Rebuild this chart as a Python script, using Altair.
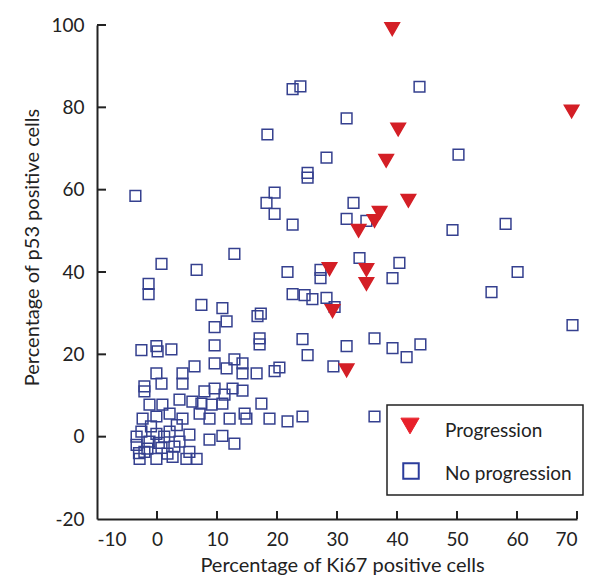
import altair as alt
import pandas as pd

# Progression (red triangles)
prog_x = [39.2, 69.1, 40.2, 38.2, 41.9, 37.1, 36.25, 33.6, 34.9, 34.9, 28.75, 29.25, 31.6]
prog_y = [99.0, 79.0, 74.6, 67.0, 57.3, 54.4, 52.4, 50.0, 40.5, 37.1, 40.7, 30.5, 16.1]

# No progression (blue open squares)
nop_x = [22.6, 23.9, 43.75, 31.6, 18.4, 50.25, 28.25, 25.1, 25.1, -3.6, 19.6, 18.25, 19.6, 22.6,
         32.75, 31.6, 34.9, 49.25, 58.1, 12.9, 33.75, 40.4, 39.25, 0.75, 6.6, 21.75, 27.25, 27.25,
         60.1, -1.4, -1.4, 55.75, 22.6, 24.6, 25.9, 28.25, 29.6, 69.25, 24.25, 25.1, 31.6, 36.25,
         39.25, 41.6, 43.9, 29.4, 24.25, 36.25, 20.4, 19.6,
         7.4, 10.9, 11.6, 9.6, 16.75, 17.3, 17.1, 17.1, 9.6, -2.6, -0.1, 0.1, 2.4, 6.25, 9.6, 12.9,
         14.25, 11.6, 14.25, 16.6, -0.1, 4.25, 4.25, 0.75, -2.1, -2.1, 9.6, 7.9, 11.25, 12.6, 14.25,
         -1.25, 0.9, 3.75, 5.9, 7.4, 9.1, 10.9, 17.4, -2.4, -0.1, 2.1, 4.25, 7.1, 8.75, 12.1, 14.6,
         14.9, 18.75, 21.75, 5.4, 8.75, 10.9, 12.9, -2.6, -0.1, 2.1, -3.4, -1.6, 0.75, 2.9, 5.4,
         6.6, -2.9, -0.1, 2.6, 4.9, -3.4, -1.25, 3.75, 1.75, -2.1, 1.2, -1.0, 3.3, -3.0, 0.3]
nop_y = [84.4, 85.1, 85.0, 77.3, 73.4, 68.5, 67.8, 64.1, 62.9, 58.5, 59.3, 56.8, 54.1, 51.5,
         56.8, 52.9, 52.4, 50.2, 51.7, 44.4, 43.4, 42.2, 38.5, 42.0, 40.5, 40.0, 40.5, 38.5,
         40.0, 37.1, 34.6, 35.1, 34.6, 34.4, 33.4, 33.7, 31.5, 27.1, 23.7, 19.8, 22.0, 23.9,
         21.5, 19.3, 22.4, 17.1, 4.9, 4.9, 16.8, 15.9,
         32.0, 31.2, 28.0, 26.6, 29.3, 29.9, 23.9, 22.4, 22.2, 21.0, 22.0, 20.7, 21.2, 17.1, 17.8, 18.8,
         17.8, 16.6, 15.4, 15.4, 15.4, 15.4, 12.9, 12.9, 12.2, 11.0, 11.7, 11.0, 10.2, 11.7, 11.2,
         7.8, 7.8, 9.0, 8.5, 8.0, 7.8, 8.0, 8.0, 4.4, 4.9, 5.6, 4.4, 5.6, 4.4, 4.4, 5.6,
         4.4, 4.4, 3.7, 0.5, -0.7, 0.2, -1.7, 1.2, 0.7, 1.2, -2.0, -2.9, -2.7, -2.4, -3.7,
         -5.4, -5.4, -5.4, -4.9, -5.4, 0.0, -1.2, -1.2, -4.1, -3.7, 0.0, 2.5, 2.8, -4.0, -1.5]

groups = ["Progression", "No progression"]
x_ticks = [-10, 0, 10, 20, 30, 40, 50, 60, 70]
y_ticks = [-20, 0, 20, 40, 60, 80, 100]

RED = "#d41f26"
LEG_RED = "#e8202a"
BLUE = "#35408f"
LEG_BLUE = "#2b3c9c"

df = pd.DataFrame({
    "ki67": nop_x + prog_x,
    "p53": nop_y + prog_y,
    "group": ["No progression"] * len(nop_x) + ["Progression"] * len(prog_x),
})
df["order"] = range(len(df))

FONT = "Lato"
TXT = "#222222"
W, H = 480, 494

xscale = alt.Scale(domain=[-10, 70], nice=False, zero=False)
yscale = alt.Scale(domain=[-20, 100], nice=False, zero=False)

xaxis = alt.Axis(values=x_ticks, title="Percentage of Ki67 positive cells",
                 titleX=245, titleY=52, titleBaseline="alphabetic", labelPadding=11,
                 labelExpr="'' + datum.value")
yaxis = alt.Axis(values=y_ticks, title="Percentage of p53 positive cells",
                 titleX=-55, titleY=222, titleBaseline="bottom", labelPadding=13,
                 labelExpr="'' + datum.value")

points = alt.Chart(df).mark_point(opacity=1, strokeWidth=1.5).encode(
    x=alt.X("ki67:Q", scale=xscale, axis=xaxis),
    y=alt.Y("p53:Q", scale=yscale, axis=yaxis),
    shape=alt.Shape("group:N", scale=alt.Scale(domain=groups, range=["triangle-down", "square"]),
                    legend=None),
    fill=alt.Fill("group:N", scale=alt.Scale(domain=groups, range=[RED, "transparent"]),
                  legend=None),
    stroke=alt.Stroke("group:N", scale=alt.Scale(domain=groups, range=[RED, BLUE]),
                      legend=None),
    size=alt.Size("group:N", scale=alt.Scale(domain=groups, range=[210, 115]), legend=None),
    order=alt.Order("order:Q"),
)

xt = pd.DataFrame({"ki67": x_ticks[1:]})
yt = pd.DataFrame({"p53": y_ticks[1:]})

xtick_rules = alt.Chart(xt).mark_rule(color=TXT, strokeWidth=2).encode(
    x=alt.X("ki67:Q", scale=xscale, axis=xaxis),
    y=alt.value(H), y2=alt.value(H - 8),
)
ytick_rules = alt.Chart(yt).mark_rule(color=TXT, strokeWidth=2).encode(
    y=alt.Y("p53:Q", scale=yscale, axis=yaxis),
    x=alt.value(0), x2=alt.value(9),
)

# legend box (drawn as marks)
one = pd.DataFrame({"k": [0]})
leg_box = alt.Chart(one).mark_rect(fill="white", stroke=TXT, strokeWidth=1.5).encode(
    x=alt.value(290), x2=alt.value(486), y=alt.value(380), y2=alt.value(470),
)
leg_tri = alt.Chart(one).mark_point(shape="triangle-down", filled=True, fill=LEG_RED,
                                    stroke=LEG_RED, strokeWidth=1, size=330, opacity=1).encode(
    x=alt.value(313), y=alt.value(401),
)
leg_sq = alt.Chart(one).mark_point(shape="square", filled=False, stroke=LEG_BLUE,
                                   strokeWidth=2, size=240, opacity=1).encode(
    x=alt.value(314), y=alt.value(446),
)
leg_t1 = alt.Chart(one).mark_text(text=groups[0], font=FONT, fontSize=19, color=TXT,
                                  align="left", baseline="alphabetic").encode(
    x=alt.value(348), y=alt.value(412),
)
leg_t2 = alt.Chart(one).mark_text(text=groups[1], font=FONT, fontSize=19, color=TXT,
                                  align="left", baseline="alphabetic").encode(
    x=alt.value(348), y=alt.value(455),
)

chart = alt.layer(points, xtick_rules, ytick_rules,
                  leg_box, leg_tri, leg_sq, leg_t1, leg_t2).properties(
    width=W, height=H,
    autosize=alt.AutoSizeParams(type="none"),
    padding={"left": 89, "top": 17, "right": 7, "bottom": 59},
).configure_view(stroke=None).configure_axis(
    domainColor=TXT, domainWidth=2, ticks=False, grid=False,
    labelFont=FONT, labelFontSize=19, labelColor=TXT,
    titleFont=FONT, titleFontSize=20, titleColor=TXT, titleFontWeight="normal",
)

chart.save("out.html", embed_options={"renderer": "svg", "actions": False})
